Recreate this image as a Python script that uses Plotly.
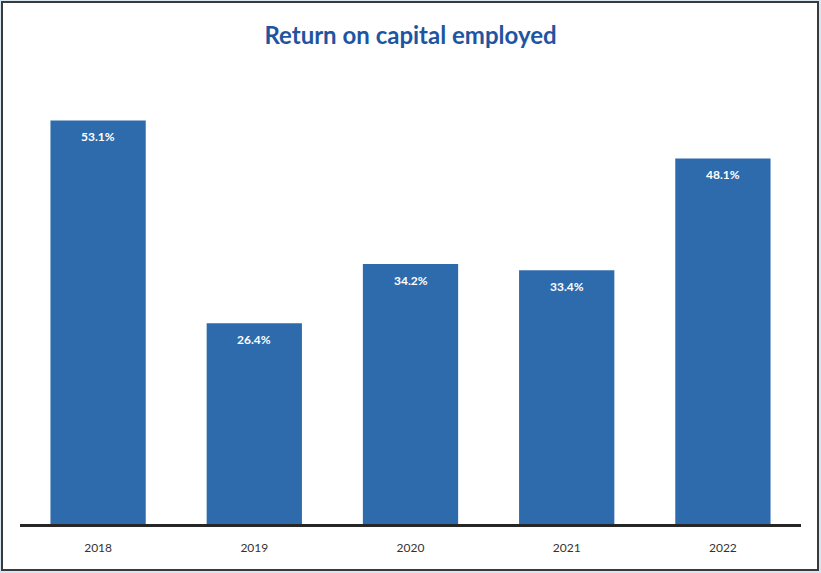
import plotly.graph_objects as go

years = ["2018", "2019", "2020", "2021", "2022"]
roce = [53.1, 26.4, 34.2, 33.4, 48.1]
labels = ["53.1%", "26.4%", "34.2%", "33.4%", "48.1%"]

W, H = 821, 573
ml, mr, mt, mb = 20, 20, 68, 49
pw, ph = W - ml - mr, H - mt - mb

fig = go.Figure()
fig.add_trace(go.Bar(
    x=years, y=roce, marker=dict(color="#2E6BAD", line=dict(width=0)),
    width=0.61, hoverinfo="skip"
))
for i, (yv, t) in enumerate(zip(roce, labels)):
    fig.add_annotation(x=i, y=yv, text="<b>%s</b>" % t, showarrow=False,
                       yanchor="top", yshift=-7,
                       font=dict(family="Lato", size=12, color="white"))

# outer border
fig.add_shape(type="rect", xref="paper", yref="paper",
              x0=(2 - ml) / pw, x1=(W - 3 - ml) / pw,
              y0=-(H - 3 - mt - ph) / ph, y1=1 + (mt - 2) / ph,
              line=dict(color="#3A3A3A", width=2), fillcolor="white", layer="below")

fig.update_layout(
    width=W, height=H,
    margin=dict(l=ml, r=mr, t=mt, b=mb, autoexpand=False),
    paper_bgcolor="#D6E6F3", plot_bgcolor="rgba(0,0,0,0)",
    title=dict(text="<b>Return on capital employed</b>", x=0.5, xanchor="center",
               y=1 - 36 / H, yanchor="middle",
               font=dict(family="Lato", size=24, color="#1F55A0")),
    showlegend=False,
    bargap=0.39,
)
fig.update_xaxes(type="category", range=[-0.5, len(years) - 0.5],
                 showline=True, linecolor="#262626", linewidth=3,
                 ticks="", ticklabelstandoff=11, showgrid=False, automargin=False,
                 tickfont=dict(family="Lato", size=12, color="#333333"))
fig.update_yaxes(visible=False, range=[0, 60], showgrid=False, zeroline=False,
                 automargin=False)

fig.write_html("out.html", config={"displayModeBar": False},
               post_script="document.body.style.margin='0';")
